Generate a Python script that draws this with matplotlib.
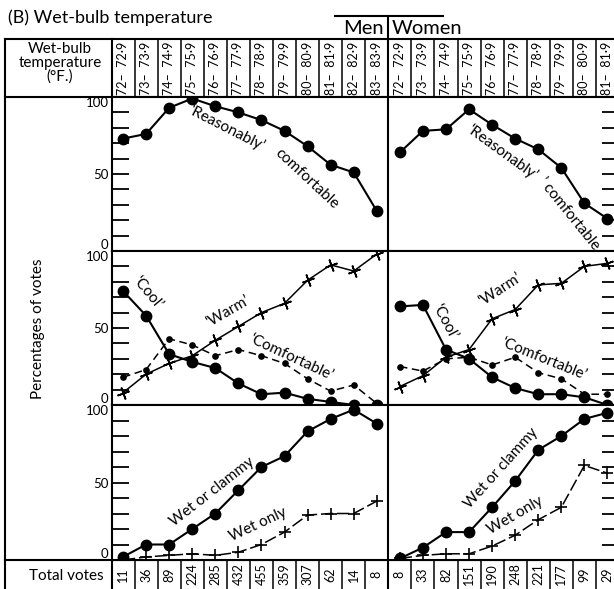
import numpy as np
import matplotlib
matplotlib.use('Agg')
import matplotlib.pyplot as plt

plt.rcParams['font.family'] = ['Lato', 'DejaVu Sans']

# wet-bulb temperature bands (deg F)
bands = ['%d–  %d·9' % (t, t) for t in range(72, 84)]
men_bands = bands
women_bands = bands[:10]

men_votes = [11, 36, 89, 224, 285, 432, 455, 359, 307, 62, 14, 8]
women_votes = [8, 33, 82, 151, 190, 248, 221, 177, 99, 29]

# top panel - 'reasonably' comfortable (%)
men_reasonably = [73, 76, 93, 99, 94, 90, 85, 78, 68, 56, 51, 26]
women_reasonably = [64, 78, 79, 92, 82, 73, 66, 54, 31, 21]

# middle panel - cool / warm / comfortable (%)
men_cool = [74, 58, 33, 28, 24, 14, 7, 8, 4, 2, 0, 0]
men_warm = [8, 20, 27, 32, 42, 51, 60, 66, 81, 91, 87, 98]
men_comfortable = [18, 23, 43, 39, 32, 36, 32, 27, 17, 9, 13, 1]
women_cool = [64, 65, 36, 30, 18, 11, 7, 7, 5, 0]
women_warm = [12, 19, 31, 36, 56, 62, 78, 79, 90, 92]
women_comfortable = [25, 22, 30, 31, 26, 31, 21, 17, 7, 7]

# bottom panel - skin wetness (%)
men_wet_clammy = [2, 10, 10, 20, 30, 45, 60, 67, 83, 91, 97, 88]
men_wet_only = [0, 2, 3, 4, 3, 5, 10, 18, 29, 30, 30, 38]
women_wet_clammy = [1, 8, 18, 18, 34, 51, 71, 80, 91, 95]
women_wet_only = [1, 3, 4, 4, 9, 16, 26, 34, 61, 56]

W, H = 614, 589
fig = plt.figure(figsize=(W / 100, H / 100), dpi=100)


def rect(x0, y0, x1, y1):
    # pixel box -> figure fraction
    return [x0 / W, 1 - y1 / H, (x1 - x0) / W, (y1 - y0) / H]


LEFT, RIGHT = 111.5, 619
LW = 1.5
men_x = np.arange(len(men_bands))
women_x = len(men_bands) + np.arange(len(women_bands))
split = len(men_bands) - 0.5
xmax = len(men_bands) + len(women_bands) - 0.5


def setup(ax):
    ax.set_xlim(-0.5, xmax)
    for s in ax.spines.values():
        s.set_linewidth(LW)
    ax.axvline(split, color='black', lw=LW)


# header row with temperature bands
hdr = fig.add_axes(rect(LEFT, 39, RIGHT, 97))
setup(hdr)
hdr.set_ylim(0, 1)
hdr.set_xticks([])
hdr.set_yticks([])
for k in np.arange(0.5, xmax, 1):
    hdr.axvline(k, color='black', lw=1.1)
for x, lab in zip(list(men_x) + list(women_x), men_bands + women_bands):
    hdr.text(x, 0.5, lab, rotation=90, ha='center', va='center', fontsize=9)

# total votes row
vot = fig.add_axes(rect(LEFT, 560, RIGHT, 592))
setup(vot)
vot.set_ylim(0, 1)
vot.set_xticks([])
vot.set_yticks([])
for k in np.arange(0.5, xmax, 1):
    vot.axvline(k, color='black', lw=1.1)
for x, v in zip(list(men_x) + list(women_x), men_votes + women_votes):
    vot.text(x, 0.55, str(v), rotation=90, ha='center', va='center', fontsize=9)

# three data panels
panels = []
for y0, y1 in [(97, 251), (251, 405), (405, 560)]:
    ax = fig.add_axes(rect(LEFT, y0, RIGHT, y1))
    setup(ax)
    ax.set_ylim(0, 100)
    ax.set_xticks([])
    ax.set_yticks(np.arange(0, 101, 10))
    ax.set_yticklabels(['0', '', '', '', '', '50', '', '', '', '', '100'])
    ax.tick_params(axis='y', direction='in', length=12, width=1.3,
                   left=True, right=True, labelsize=9.5, pad=2)
    ticks = ax.yaxis.get_major_ticks()
    ticks[0].label1.set_va('bottom')
    ticks[-1].label1.set_va('top')
    panels.append(ax)

big = dict(color='black', marker='o', ms=7.5, lw=LW)
small = dict(color='black', marker='o', ms=3.8, lw=1.1, dashes=(5, 3))
cross = dict(color='black', marker=(4, 2, 20), ms=9, mew=1.2, lw=1.1)
cross_d = dict(color='black', marker='+', ms=9, mew=1.2, lw=1.1, dashes=(8, 2.5))

ax = panels[0]
ax.plot(men_x, men_reasonably, **big)
ax.plot(women_x, women_reasonably, **big)
tx = dict(ha='center', va='center', fontsize=11, rotation_mode='anchor')
ax.text(4.5, 80, '‘Reasonably’', rotation=-27, **tx)
ax.text(7.95, 47, 'comfortable', rotation=-43, **tx)
ax.text(16.45, 64, '‘Reasonably’', rotation=-36, **tx)
ax.text(19.35, 24, '’ comfortable', rotation=-51, **tx)

ax = panels[1]
ax.plot(men_x, men_cool, **big)
ax.plot(women_x, women_cool, **big)
ax.plot(men_x, men_warm, **cross)
ax.plot(women_x, women_warm, **cross)
ax.plot(men_x, men_comfortable, **small)
ax.plot(women_x, women_comfortable, **small)
ax.text(1.05, 73, '‘Cool’', rotation=-50, **tx)
ax.text(4.55, 61, '‘Warm’', rotation=30, **tx)
ax.text(7.3, 31, '‘Comfortable’', rotation=-25, **tx)
ax.text(13.95, 54, '‘Cool’', rotation=-62, **tx)
ax.text(16.35, 75, '‘Warm’', rotation=33, **tx)
ax.text(18.25, 30, '‘Comfortable’', rotation=-22, **tx)

ax = panels[2]
ax.plot(men_x, men_wet_clammy, **big)
ax.plot(women_x, women_wet_clammy, **big)
ax.plot(men_x, men_wet_only, **cross_d)
ax.plot(women_x, women_wet_only, **cross_d)
ax.text(3.85, 44, 'Wet or clammy', rotation=38, **tx)
ax.text(5.85, 23, 'Wet only', rotation=25, **tx)
ax.text(16.4, 59, 'Wet or clammy', rotation=48, **tx)
ax.text(17.0, 29, 'Wet only', rotation=30, **tx)

# frame, left-hand labels and titles in pixel space
ov = fig.add_axes([0, 0, 1, 1], zorder=5)
ov.set_xlim(0, W)
ov.set_ylim(H, 0)
ov.axis('off')
ov.patch.set_visible(False)
for y in (39, 97, 560):
    ov.plot([5, LEFT], [y, y], color='black', lw=LW)
ov.plot([5, 5], [39, 592], color='black', lw=LW)
ov.plot([335, 443], [16, 16], color='black', lw=LW)
ov.plot([388, 388], [16, 39], color='black', lw=LW)
ov.text(8, 18, '(B) Wet-bulb temperature', fontsize=13, va='center', ha='left')
ov.text(384, 29, 'Men', fontsize=14.5, va='center', ha='right')
ov.text(392, 29, 'Women', fontsize=14.5, va='center', ha='left')
ov.text(60, 63, 'Wet-bulb\ntemperature\n(°F.)', fontsize=11, ha='center',
        va='center', linespacing=1.0)
ov.text(38, 329, 'Percentages of votes', fontsize=11, rotation=90,
        ha='center', va='center')
ov.text(104, 576, 'Total votes', fontsize=11, ha='right', va='center')

fig.savefig('out.png', dpi=100)
